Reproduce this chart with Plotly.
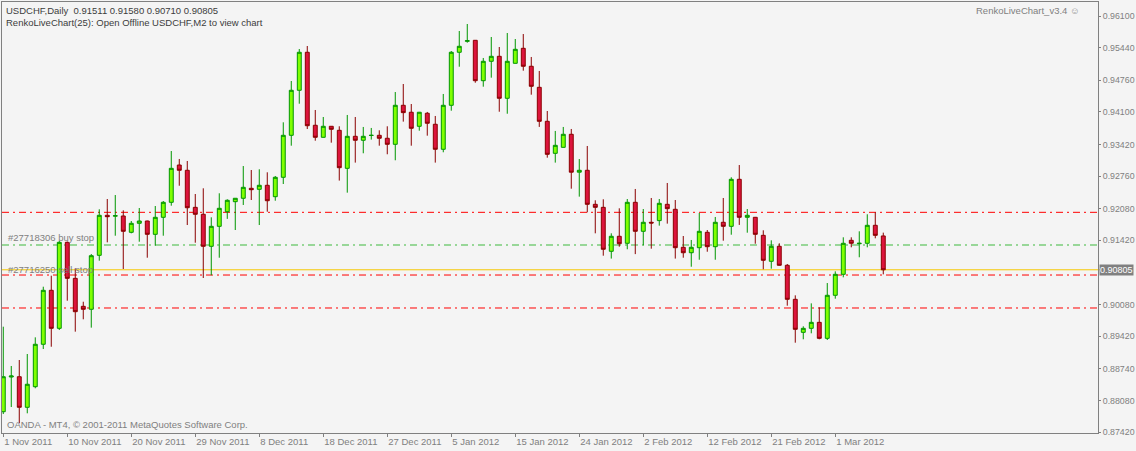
import plotly.graph_objects as go

# USDCHF daily bars from the MT4 / OANDA feed (Sunday bars included), 1 Nov 2011 onwards
opens = [0.87844, 0.88568, 0.88574, 0.87936, 0.88366, 0.89251, 0.90377, 0.89584, 0.91378, 0.90627,
         0.90043, 0.89981, 0.91107, 0.91942, 0.91924, 0.91928, 0.91587, 0.91775, 0.91823, 0.91545,
         0.91900, 0.92213, 0.92991, 0.92881, 0.92108, 0.91963, 0.91295, 0.91712, 0.92017, 0.92226,
         0.92297, 0.92505, 0.92484, 0.92568, 0.92330, 0.92735, 0.93611, 0.94550, 0.95343, 0.93820,
         0.93569, 0.93799, 0.93715, 0.92922, 0.93590, 0.93507, 0.93607, 0.93611, 0.93549, 0.93423,
         0.94237, 0.94092, 0.93799, 0.94071, 0.93841, 0.93319, 0.94237, 0.95343, 0.95572, 0.95593,
         0.94750, 0.95155, 0.95259, 0.94383, 0.95113, 0.95426, 0.95051, 0.94612, 0.93903, 0.93235,
         0.93360, 0.93632, 0.92841, 0.92881, 0.92171, 0.92108, 0.91191, 0.91504, 0.91358, 0.92213,
         0.91608, 0.91796, 0.91831, 0.92171, 0.92067, 0.91274, 0.91161, 0.91266, 0.91587, 0.91287,
         0.91796, 0.91712, 0.92693, 0.91900, 0.91900, 0.91524, 0.90982, 0.91295, 0.90899, 0.90189,
         0.89500, 0.89584, 0.89709, 0.89375, 0.90273, 0.90711, 0.91420, 0.91349, 0.91358, 0.91733,
         0.91511]
highs = [0.89618, 0.88798, 0.88923, 0.89048, 0.89396, 0.90452, 0.90682, 0.91405, 0.91395, 0.90836,
         0.90139, 0.91134, 0.92067, 0.92282, 0.92365, 0.92046, 0.91823, 0.92094, 0.91830, 0.92136,
         0.92240, 0.93283, 0.93117, 0.93075, 0.92386, 0.92505, 0.91900, 0.92401, 0.92276, 0.92300,
         0.92970, 0.92887, 0.92902, 0.92839, 0.92762, 0.93882, 0.94744, 0.95411, 0.95474, 0.94139,
         0.93993, 0.93805, 0.93799, 0.94035, 0.93993, 0.93785, 0.93764, 0.93715, 0.93799, 0.94514,
         0.94681, 0.94264, 0.94098, 0.94098, 0.94014, 0.94473, 0.95370, 0.95787, 0.95933, 0.95595,
         0.95224, 0.95662, 0.95453, 0.95745, 0.95620, 0.95724, 0.95245, 0.94953, 0.94118, 0.93702,
         0.93785, 0.93743, 0.93116, 0.93388, 0.92255, 0.92276, 0.91566, 0.92088, 0.92282, 0.92491,
         0.92073, 0.92303, 0.92282, 0.92616, 0.92261, 0.91510, 0.91427, 0.91990, 0.91635, 0.91907,
         0.92303, 0.92735, 0.92991, 0.92073, 0.91907, 0.91629, 0.91420, 0.91358, 0.90926, 0.90272,
         0.89626, 0.90105, 0.90022, 0.90529, 0.90773, 0.91483, 0.91483, 0.91608, 0.91963, 0.92004,
         0.91580]
lows = [0.87796, 0.87942, 0.87602, 0.87811, 0.88333, 0.89152, 0.89200, 0.89549, 0.90160, 0.89514,
        0.89772, 0.89598, 0.90995, 0.91378, 0.91516, 0.90821, 0.91566, 0.91391, 0.91057, 0.91308,
        0.91516, 0.92142, 0.92559, 0.91739, 0.91370, 0.90634, 0.90691, 0.91057, 0.91867, 0.91635,
        0.92157, 0.92261, 0.91739, 0.92017, 0.92246, 0.92595, 0.93394, 0.94270, 0.93742, 0.93498,
        0.93565, 0.93457, 0.92666, 0.92414, 0.93041, 0.93236, 0.93521, 0.93394, 0.93215, 0.93090,
        0.93896, 0.93394, 0.93707, 0.93603, 0.93041, 0.93257, 0.94124, 0.95042, 0.95543, 0.94708,
        0.94625, 0.94813, 0.94103, 0.94061, 0.95110, 0.94959, 0.94458, 0.93786, 0.93144, 0.93041,
        0.93356, 0.92497, 0.92331, 0.92004, 0.91566, 0.91099, 0.91039, 0.91287, 0.91233, 0.91132,
        0.91316, 0.91245, 0.91726, 0.91768, 0.91039, 0.91057, 0.90869, 0.91015, 0.91182, 0.91015,
        0.91412, 0.91537, 0.91741, 0.91579, 0.91349, 0.90815, 0.90828, 0.90890, 0.90056, 0.89284,
        0.89355, 0.89480, 0.89355, 0.89340, 0.90202, 0.90648, 0.91274, 0.91066, 0.91274, 0.91462,
        0.90710]
closes = [0.88574, 0.88589, 0.87936, 0.88417, 0.89251, 0.90377, 0.89584, 0.91378, 0.90627, 0.89931,
          0.89981, 0.91099, 0.91942, 0.91913, 0.91934, 0.91608, 0.91775, 0.91823, 0.91545, 0.91900,
          0.92213, 0.92922, 0.92881, 0.92100, 0.91963, 0.91295, 0.91712, 0.92088, 0.92255, 0.92297,
          0.92526, 0.92476, 0.92568, 0.92246, 0.92735, 0.93611, 0.94550, 0.95343, 0.93811, 0.93569,
          0.93799, 0.93736, 0.92935, 0.93590, 0.93507, 0.93590, 0.93611, 0.93549, 0.93423, 0.94237,
          0.94084, 0.93757, 0.94092, 0.93862, 0.93319, 0.94237, 0.95343, 0.95468, 0.95585, 0.94750,
          0.95155, 0.95259, 0.94383, 0.95155, 0.95405, 0.95051, 0.94633, 0.93903, 0.93214, 0.93402,
          0.93632, 0.92841, 0.92881, 0.92171, 0.92108, 0.91233, 0.91504, 0.91349, 0.92213, 0.91608,
          0.91796, 0.91781, 0.92192, 0.92080, 0.91266, 0.91161, 0.91274, 0.91608, 0.91287, 0.91796,
          0.91712, 0.92693, 0.91900, 0.91942, 0.91545, 0.91003, 0.91295, 0.90899, 0.90189, 0.89563,
          0.89584, 0.89709, 0.89375, 0.90273, 0.90711, 0.91358, 0.91358, 0.91358, 0.91733, 0.91524,
          0.90805]

# date labels, one every 8 bars
tick_bars = [0, 8, 16, 24, 32, 40, 48, 56, 64, 72, 80, 88, 96, 104]
tick_dates = ['1 Nov 2011', '10 Nov 2011', '20 Nov 2011', '29 Nov 2011', '8 Dec 2011',
              '18 Dec 2011', '27 Dec 2011', '5 Jan 2012', '15 Jan 2012', '24 Jan 2012',
              '2 Feb 2012', '12 Feb 2012', '21 Feb 2012', '1 Mar 2012']

price_ticks = [0.96100, 0.95440, 0.94760, 0.94100, 0.93420, 0.92760, 0.92080, 0.91420,
               0.90080, 0.89420, 0.88740, 0.88080, 0.87420]

# horizontal levels
red_levels = [0.92004, 0.90696, 0.90008]
buy_stop_level = 0.91322
bid_price = 0.90805

GRAY = '#808080'
FONT = 'Liberation Sans, Arial, sans-serif'

bars = list(range(len(opens)))

fig = go.Figure(
    go.Candlestick(
        x=bars,
        open=opens,
        high=highs,
        low=lows,
        close=closes,
        increasing=dict(line=dict(color='#009600', width=1), fillcolor='#7FFF00'),
        decreasing=dict(line=dict(color='#8B0000', width=1), fillcolor='#DC143C'),
        whiskerwidth=0,
        showlegend=False,
    )
)

dashdot = '7px,4px,2px,4px'
shapes = []
for lvl in red_levels:
    shapes.append(dict(type='line', xref='paper', x0=0, x1=1, yref='y', y0=lvl, y1=lvl,
                       line=dict(color='#FF0000', width=1, dash=dashdot), layer='below'))
shapes.append(dict(type='line', xref='paper', x0=0, x1=1, yref='y', y0=buy_stop_level, y1=buy_stop_level,
                   line=dict(color='#3CB93C', width=1, dash=dashdot), layer='below'))
shapes.append(dict(type='line', xref='paper', x0=0, x1=1.002, yref='y', y0=bid_price, y1=bid_price,
                   line=dict(color='#F5C800', width=1), layer='below'))

annotations = [
    dict(text='USDCHF,Daily  %.5f %.5f %.5f %.5f' % (opens[-1], highs[-1], lows[-1], closes[-1]),
         xref='paper', yref='paper', x=0.002, y=0.981, xanchor='left', yanchor='middle',
         showarrow=False, font=dict(size=9.5, color='#3c3c3c', family=FONT)),
    dict(text='RenkoLiveChart(25): Open Offline USDCHF,M2 to view chart',
         xref='paper', yref='paper', x=0.002, y=0.953, xanchor='left', yanchor='middle',
         showarrow=False, font=dict(size=9.5, color='#3c3c3c', family=FONT)),
    dict(text='RenkoLiveChart_v3.4 \u263a',
         xref='paper', yref='paper', x=0.985, y=0.981, xanchor='right', yanchor='middle',
         showarrow=False, font=dict(size=9.5, color=GRAY, family=FONT)),
    dict(text='OANDA - MT4, \u00a9 2001-2011 MetaQuotes Software Corp.',
         xref='paper', yref='paper', x=0.003, y=0.019, xanchor='left', yanchor='middle',
         showarrow=False, font=dict(size=9.5, color=GRAY, family=FONT)),
    dict(text='#27718306 buy stop', xref='paper', yref='y', x=0.004, y=buy_stop_level,
         xanchor='left', yanchor='bottom', showarrow=False,
         font=dict(size=9.5, color=GRAY, family=FONT)),
    dict(text='#27716250 sell stop', xref='paper', yref='y', x=0.004, y=bid_price,
         xanchor='left', yanchor='middle', showarrow=False,
         font=dict(size=9.5, color=GRAY, family=FONT)),
    dict(text='%.5f' % bid_price, xref='paper', yref='y', x=1.001, y=bid_price,
         xanchor='left', yanchor='middle', showarrow=False, bgcolor=GRAY, borderpad=0,
         font=dict(size=9, color='white', family=FONT)),
]

fig.update_layout(
    width=1136,
    height=451,
    margin=dict(l=2, r=38, t=2, b=18),
    paper_bgcolor='#f4f4f4',
    plot_bgcolor='#f4f4f4',
    font=dict(family=FONT, size=9.5, color=GRAY),
    shapes=shapes,
    annotations=annotations,
    showlegend=False,
    xaxis=dict(
        range=[-0.16, 136.84],
        rangeslider=dict(visible=False),
        tickmode='array',
        tickvals=tick_bars,
        ticktext=tick_dates,
        ticks='outside',
        ticklen=3,
        tickcolor=GRAY,
        ticklabelposition='outside right',
        showgrid=False,
        zeroline=False,
        showline=True,
        linecolor=GRAY,
        linewidth=1,
        mirror=True,
        automargin=False,
    ),
    yaxis=dict(
        side='right',
        range=[0.87400, 0.96392],
        tickmode='array',
        tickvals=price_ticks,
        ticktext=['%.5f' % v for v in price_ticks],
        tickfont=dict(size=8.8),
        ticks='outside',
        ticklen=2,
        tickcolor=GRAY,
        showgrid=False,
        zeroline=False,
        showline=True,
        linecolor=GRAY,
        linewidth=1,
        mirror=True,
        automargin=False,
    ),
)

# the page body has a default 8px margin; drop it so the chart fills the window exactly
fig.write_html('out.html',
               config={'displayModeBar': False},
               post_script="document.body.style.margin='0';document.body.style.overflow='hidden';")
